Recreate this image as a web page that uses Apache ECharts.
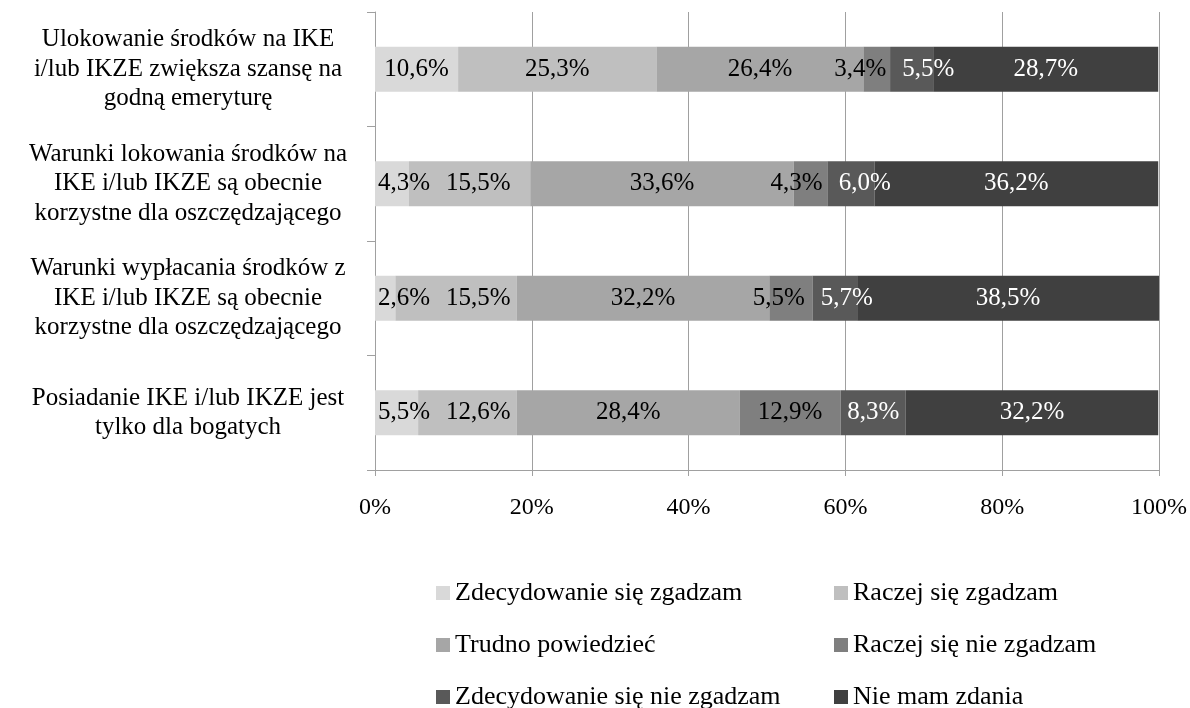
<!DOCTYPE html>
<html>
<head>
<meta charset="utf-8">
<script src="https://cdn.jsdelivr.net/npm/echarts@6/dist/echarts.min.js"></script>
<style>
  html, body { margin: 0; padding: 0; background: #fff; }
  #chart { width: 1190px; height: 708px; }
</style>
</head>
<body>
<div id="chart"></div>
<script>
// pytania (od góry)
const categories = [
  'Ulokowanie środków na IKE\ni/lub IKZE zwiększa szansę na\ngodną emeryturę',
  'Warunki lokowania środków na\nIKE i/lub IKZE są obecnie\nkorzystne dla oszczędzającego',
  'Warunki wypłacania środków z\nIKE i/lub IKZE są obecnie\nkorzystne dla oszczędzającego',
  'Posiadanie IKE i/lub IKZE jest\ntylko dla bogatych'
]
const seriesNames = [
  'Zdecydowanie się zgadzam',
  'Raczej się zgadzam',
  'Trudno powiedzieć',
  'Raczej się nie zgadzam',
  'Zdecydowanie się nie zgadzam',
  'Nie mam zdania'
]
const zdecZgadzam = [10.6, 4.3, 2.6, 5.5]
const raczejZgadzam = [25.3, 15.5, 15.5, 12.6]
const trudno = [26.4, 33.6, 32.2, 28.4]
const raczejNie = [3.4, 4.3, 5.5, 12.9]
const zdecNie = [5.5, 6.0, 5.7, 8.3]
const nieMam = [28.7, 36.2, 38.5, 32.2]
const xTicks = ['0%', '20%', '40%', '60%', '80%', '100%']

const values = [zdecZgadzam, raczejZgadzam, trudno, raczejNie, zdecNie, nieMam]
const colors = ['#d9d9d9', '#bfbfbf', '#a6a6a6', '#7f7f7f', '#595959', '#404040']
const labelColors = ['#000', '#000', '#000', '#000', '#fff', '#fff']
const font = '"Liberation Serif", "Times New Roman", serif'
const lineColor = '#a0a0a0'
const labelSize = 25

const fmt = v => v.toFixed(1).replace('.', ',') + '%'

const chart = echarts.init(document.getElementById('chart'))

// legenda: 2 kolumny x 3 wiersze
const legendPos = [[436, 580], [834, 580], [436, 632], [834, 632], [436, 684], [834, 684]]
const legends = seriesNames.map((name, i) => ({
  data: [name],
  left: legendPos[i][0],
  top: legendPos[i][1],
  padding: 0,
  icon: 'rect',
  itemWidth: 14,
  itemHeight: 14,
  itemGap: 0,
  selectedMode: false,
  textStyle: { fontFamily: font, fontSize: 26, color: '#000' }
}))

function buildSeries(offsets) {
  return values.map((arr, i) => ({
    name: seriesNames[i],
    type: 'bar',
    stack: 'total',
    data: arr.map((v, j) => ({
      value: v,
      label: { offset: [offsets ? offsets[i][j] : 0, 0] }
    })),
    barWidth: 45,
    itemStyle: { color: colors[i] },
    label: {
      show: true,
      position: 'inside',
      fontFamily: font,
      fontSize: labelSize,
      color: labelColors[i],
      formatter: p => fmt(p.value)
    }
  }))
}

const option = {
  animation: false,
  color: colors,
  legend: legends,
  grid: { left: 375, right: 31, top: 12, bottom: 238 },
  xAxis: {
    type: 'value',
    min: 0,
    max: 100,
    interval: 20,
    axisLine: { show: true, lineStyle: { color: lineColor, width: 1 } },
    axisTick: { show: true, length: 6, lineStyle: { color: lineColor } },
    splitLine: { show: true, lineStyle: { color: lineColor, width: 1 } },
    axisLabel: {
      margin: 26,
      fontFamily: font,
      fontSize: 24,
      color: '#000',
      formatter: v => xTicks[v / 20]
    }
  },
  yAxis: {
    type: 'category',
    inverse: true,
    data: categories,
    axisLine: { show: true, lineStyle: { color: lineColor, width: 1 } },
    axisTick: { show: true, length: 8, lineStyle: { color: lineColor } },
    axisLabel: {
      margin: 187,
      align: 'center',
      fontFamily: font,
      fontSize: 25,
      lineHeight: 29.5,
      color: '#000'
    }
  },
  series: buildSeries(null)
}

chart.setOption(option)

// przesuwanie etykiet, żeby na siebie nie nachodziły (jak w Excelu)
const ctx = document.createElement('canvas').getContext('2d')
ctx.font = labelSize + 'px ' + font
const xPix = v => chart.convertToPixel({ gridIndex: 0 }, [v, 0])[0]
const plotLeft = xPix(0), plotRight = xPix(100)
const offsets = values.map(() => categories.map(() => 0))
categories.forEach((c, j) => {
  let acc = 0
  const labs = values.map(arr => {
    const x0 = xPix(acc), x1 = xPix(acc + arr[j])
    acc += arr[j]
    const w = ctx.measureText(fmt(arr[j])).width
    return { base: (x0 + x1) / 2, c: (x0 + x1) / 2, w: w }
  })
  const pad = 8
  for (let k = 0; k < 30; k++) {
    for (let i = 0; i < labs.length - 1; i++) {
      const a = labs[i], b = labs[i + 1]
      const ov = (a.c + a.w / 2 + pad) - (b.c - b.w / 2 - pad)
      if (ov > 0) { a.c -= ov / 2; b.c += ov / 2 }
    }
    const f = labs[0]
    if (f.c - f.w / 2 < plotLeft + 3) f.c = plotLeft + 3 + f.w / 2
    const l = labs[labs.length - 1]
    if (l.c + l.w / 2 > plotRight - 3) l.c = plotRight - 3 - l.w / 2
  }
  labs.forEach((lb, i) => { offsets[i][j] = lb.c - lb.base })
})
chart.setOption({ series: buildSeries(offsets) })
</script>
</body>
</html>
